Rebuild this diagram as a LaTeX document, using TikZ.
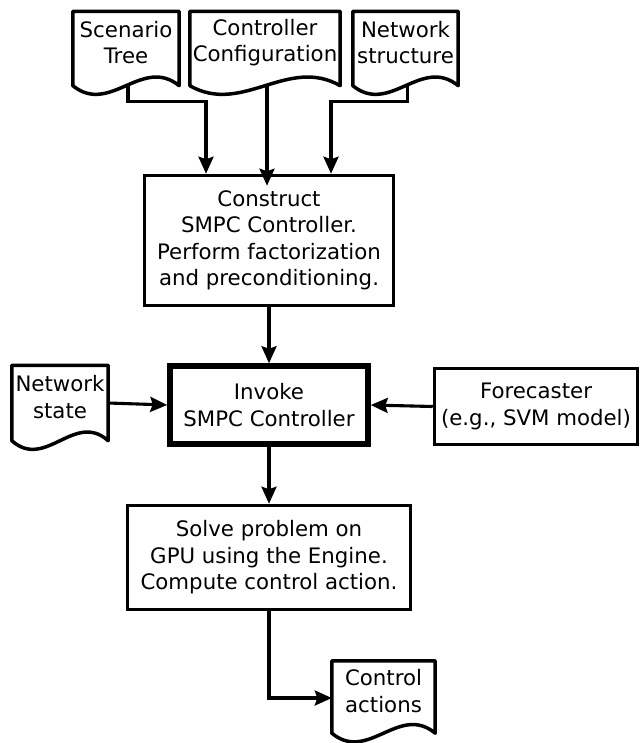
\documentclass[tikz,border=0pt]{standalone}
\usepackage{fontspec}
\setmainfont{DejaVu Sans}
\usetikzlibrary{arrows.meta,calc}
\newcommand\docshape[1]{\draw[docline] (#1.north west) -- (#1.north east) -- ([yshift=-12pt]#1.south east) .. controls ($(#1.south east)!0.35!(#1.south west)+(0pt,18pt)$) and ($(#1.south east)!0.65!(#1.south west)+(0pt,-42pt)$) .. ([yshift=-12pt]#1.south west) -- cycle;}
\begin{document}
\begin{tikzpicture}[x=1pt,y=-1pt,
  txt/.style={align=center, font=\fontsize{21.3}{26.5}\selectfont, inner sep=0pt},
  box/.style={txt, draw, line width=3.5pt},
  thickbox/.style={box, line width=5.5pt},
  doc/.style={txt},
  docline/.style={line width=3.5pt, line join=round},
  arr/.style={line width=3.1pt, -{Stealth[length=17pt,width=15pt,inset=2.5pt]}}]
\useasboundingbox[fill=white] (0,0) rectangle (642,743);
% documents
\node[doc, minimum width=106, minimum height=62] (sc) at (126,42.5) {Scenario\\Tree};
\node[doc, minimum width=150, minimum height=62] (cc) at (265,42.5) {Controller\\Configuration};
\node[doc, minimum width=105, minimum height=62] (nst) at (405.5,42.5) {Network\\structure};
\node[doc, minimum width=96, minimum height=63] (ns) at (60,397) {Network\\state};
\node[doc, minimum width=103, minimum height=60] (ca) at (383.5,691) {Control\\actions};
\docshape{sc}
\docshape{cc}
\docshape{nst}
\docshape{ns}
\docshape{ca}
% boxes
\node[box, minimum width=249, minimum height=130] (con) at (269,240.5) {Construct\\SMPC Controller.\\Perform factorization\\and preconditioning.};
\node[thickbox, minimum width=198, minimum height=78] (inv) at (269,405) {Invoke\\SMPC Controller};
\node[box, minimum width=203, minimum height=76] (fc) at (536,406.5) {Forecaster\\(e.g., SVM model)};
\node[box, minimum width=283, minimum height=104] (so) at (269,557.5) {Solve problem on\\GPU using the Engine.\\Compute control action.};
% connectors
\draw[arr] ([xshift=2pt,yshift=-12pt]sc.south) -- ++(0,16) -| ([xshift=-63pt]con.north);
\draw[arr] ([xshift=2pt,yshift=-12pt]cc.south) -- ([xshift=2pt,yshift=-12pt]cc.south |- con.north);
\draw[arr] ([xshift=2pt,yshift=-12pt]nst.south) -- ++(0,16) -| ([xshift=62pt]con.north);
\draw[arr] (con) -- (inv);
\draw[arr] ([yshift=-6pt]ns.east) -- (inv.west);
\draw[arr] (fc.west) -- (inv.east);
\draw[arr] (inv) -- (so);
\draw[arr] (so.south) |- ([yshift=-7pt]ca.west);
\end{tikzpicture}
\end{document}
